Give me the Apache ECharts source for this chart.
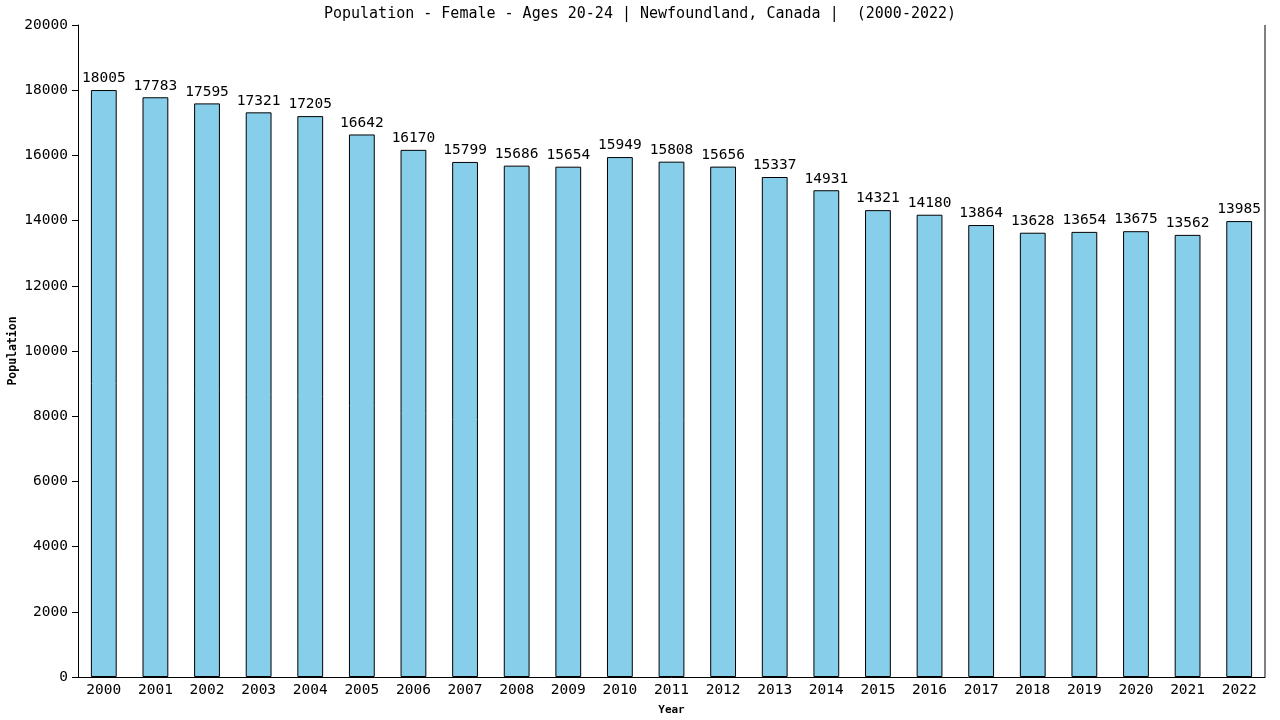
<!DOCTYPE html>
<html>
<head>
<meta charset="utf-8">
<script src="https://cdn.jsdelivr.net/npm/echarts@6/dist/echarts.min.js"></script>
<style>
html,body{margin:0;padding:0;background:#fff;}
#chart{width:1280px;height:720px;}
</style>
</head>
<body>
<div id="chart"></div>
<script>
var years = ['2000','2001','2002','2003','2004','2005','2006','2007','2008','2009','2010','2011',
	'2012','2013','2014','2015','2016','2017','2018','2019','2020','2021','2022'];
var population = [18005,17783,17595,17321,17205,16642,16170,15799,15686,15654,15949,15808,
	15656,15337,14931,14321,14180,13864,13628,13654,13675,13562,13985];

var font = 'DejaVu Sans Mono';

var chart = echarts.init(document.getElementById('chart'));
chart.setOption({
	animation:false,
	backgroundColor:'#fff',
	title:{
		text:'Population - Female - Ages 20-24 | Newfoundland, Canada |  (2000-2022)',
		left:'center',
		top:2,
		textStyle:{fontFamily:font,fontSize:15,fontWeight:'normal',color:'#000'}
	},
	grid:{left:78,right:15,top:25,bottom:43,outerBoundsMode:'none',containLabel:false},
	xAxis:{
		type:'category',
		data:years,
		name:'Year',
		nameLocation:'middle',
		nameGap:28,
		nameTextStyle:{fontFamily:font,fontSize:11,fontWeight:'bold',color:'#000'},
		axisLine:{lineStyle:{color:'#000',width:1}},
		axisTick:{show:false},
		axisLabel:{fontFamily:font,fontSize:14.5,color:'#000',margin:6}
	},
	yAxis:[{
		type:'value',
		min:0,max:20000,interval:2000,
		axisLine:{show:true,lineStyle:{color:'#000',width:1}},
		axisTick:{show:true,length:6,lineStyle:{color:'#000'}},
		axisLabel:{fontFamily:font,fontSize:14.5,color:'#000',margin:10,formatter:function(v){return String(v);}},
		splitLine:{show:false}
	}],
	series:[{
		type:'bar',
		data:population,
		barWidth:'50%',
		itemStyle:{color:'#87CEEB',borderColor:'#000',borderWidth:1},
		label:{show:true,position:'top',distance:4,fontFamily:font,fontSize:14.5,color:'#000'}
	}]
});
// right border line of the plot + y axis title
var rect = chart.getModel().getComponent('grid').coordinateSystem.getRect();
chart.setOption({graphic:[
	{type:'line',shape:{x1:rect.x+rect.width,y1:rect.y,x2:rect.x+rect.width,y2:rect.y+rect.height},style:{stroke:'#000',lineWidth:1}},
	{type:'text',x:13,y:rect.y+rect.height/2,rotation:Math.PI/2,
		style:{text:'Population',fontFamily:font,fontSize:11.5,fontWeight:'bold',fill:'#000',align:'center',verticalAlign:'middle'}}
]});
</script>
</body>
</html>
